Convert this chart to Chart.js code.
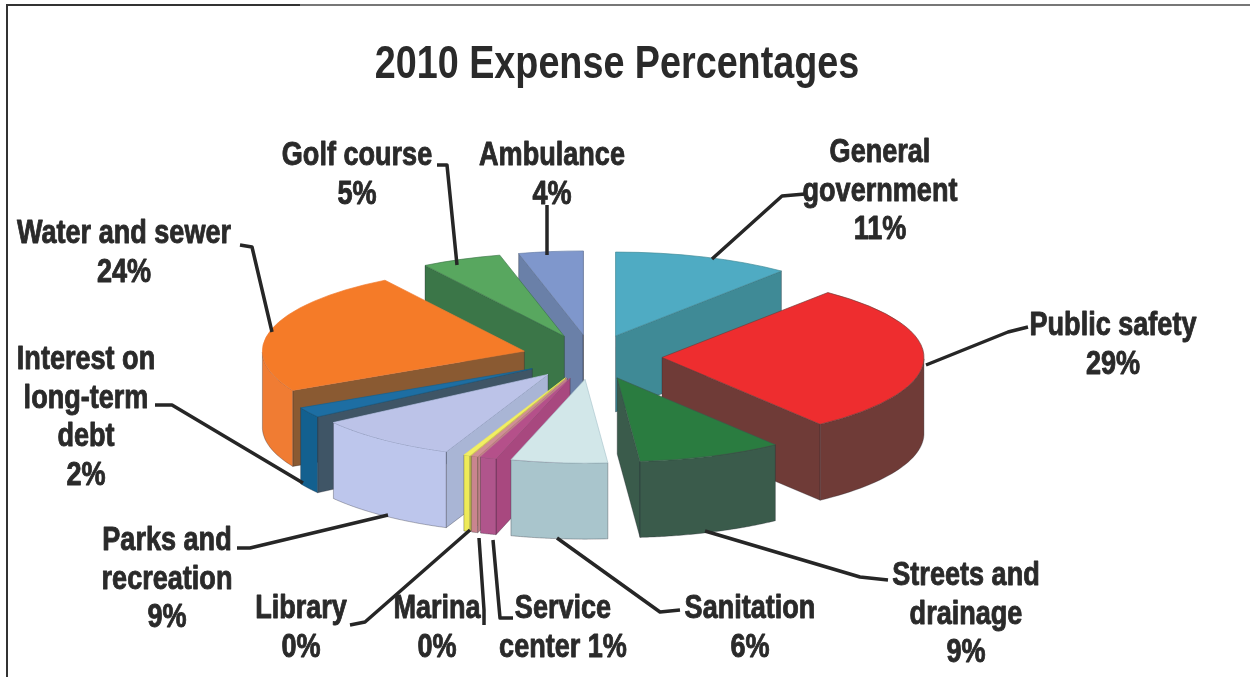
<!DOCTYPE html>
<html>
<head>
<meta charset="utf-8">
<title>2010 Expense Percentages</title>
<script src="https://cdn.jsdelivr.net/npm/chart.js@4/dist/chart.umd.js"></script>
<style>
  html, body { margin: 0; padding: 0; background: #fff; }
  canvas { display: block; }
</style>
</head>
<body>
<canvas id="expenseChart" width="1250" height="677"></canvas>
<script>
// clockwise from 12 o'clock
const categories = ['General government', 'Public safety', 'Streets and drainage', 'Sanitation',
  'Service center', 'Marina', 'Library', 'Parks and recreation', 'Interest on long-term debt',
  'Water and sewer', 'Golf course', 'Ambulance'];
const values = [11, 29, 9, 6, 1, 0.4, 0.4, 9, 2, 24, 5, 4];

const topColors = ['#4fabc3', '#ee2d2f', '#2a7c40', '#d2e7e9', '#b5508a', '#cf8f96', '#f2ef62',
  '#bcc3e8', '#1d6ea3', '#f57b28', '#58a75f', '#7f97cc'];
const wallColors = ['#3f8a96', '#6f3b37', '#3a5b4b', '#a9c5cc', '#b0558c', '#c9858f', '#eeea58',
  '#bdc6ec', '#13608f', '#f07c33', '#3b7648', '#6a80a8'];
const cutColors = ['#3f8a96', '#6f3b37', '#3a5b4b', '#a9c5cc', '#a8487f', '#c08088', '#d8d450',
  '#a9b5d5', '#3f5566', '#8a5a32', '#3b7648', '#6a80a8'];

const labelLines = [['General', 'government'], ['Public safety'], ['Streets and', 'drainage'],
  ['Sanitation'], ['Service', 'center'], ['Marina'], ['Library'], ['Parks and', 'recreation'],
  ['Interest on', 'long-term', 'debt'], ['Water and sewer'], ['Golf course'], ['Ambulance']];

// label anchor (centre of first line) and leader line for each slice
const labelAnchors = [[880, 153], [1113, 326], [966, 576], [750, 609], [563, 609], [437, 609],
  [301, 609], [167, 541], [86, 360], [124, 234], [357, 156], [552, 156]];
const leaders = [
  [[805, 194], [782, 196], [712, 259]],
  [[1028, 327], [1008, 332], [926, 365]],
  [[888, 580], [860, 577], [705, 531]],
  [[680, 610], [660, 612], [557, 538]],
  [[513, 618], [500, 618], [493, 540]],
  [[484, 625], [484, 610], [479, 538]],
  [[350, 625], [365, 622], [470, 530]],
  [[237, 548], [250, 548], [388, 515]],
  [[155, 405], [172, 405], [303, 483]],
  [[240, 245], [252, 247], [272, 332]],
  [[437, 165], [447, 165], [457, 265]],
  [[547, 205], [547, 255]]
];

const pieX = 592, pieY = 357;
const squash = 0.32, explode = 70, depth = 76;
const lineHeight = 38.5;
const textWidthScale = 0.82;
const titleCentre = 617;
const boldFamily = "'Liberation Sans', Arial, sans-serif";

function percentText(i) {
  return Math.round(values[i]) + '%';
}

// extruded wedges, painted back to front, top faces come from the arc element itself
const wedges = {
  id: 'wedges',
  beforeDatasetDraw(chart) {
    const ctx = chart.ctx;
    const arcs = chart.getDatasetMeta(0).data.map((arc, i) => {
      const p = arc.getProps(['x', 'y', 'startAngle', 'endAngle', 'outerRadius']);
      return { arc, i, ...p, mid: (p.startAngle + p.endAngle) / 2 };
    });
    arcs.sort((a, b) => Math.sin(a.mid) - Math.sin(b.mid));

    arcs.forEach(s => {
      const dx = Math.cos(s.mid) * explode;
      const dy = Math.sin(s.mid) * explode;
      const at = (angle, r) => [
        pieX + dx + Math.cos(angle) * r,
        pieY + (dy + Math.sin(angle) * r) * squash
      ];
      const face = (pts, color) => {
        ctx.beginPath();
        pts.forEach((p, n) => n ? ctx.lineTo(p[0], p[1]) : ctx.moveTo(p[0], p[1]));
        ctx.closePath();
        ctx.fillStyle = color;
        ctx.fill();
        ctx.strokeStyle = 'rgba(35,35,45,0.4)';
        ctx.lineWidth = 0.8;
        ctx.stroke();
      };

      // flat cut faces, only the ones turned towards the viewer
      const apex = at(0, 0);
      [[s.startAngle, -Math.PI / 2], [s.endAngle, Math.PI / 2]].forEach(([angle, turn]) => {
        if (Math.sin(angle + turn) <= 0) return;
        const c = at(angle, s.outerRadius);
        face([apex, c, [c[0], c[1] + depth], [apex[0], apex[1] + depth]], cutColors[s.i]);
      });

      // rounded outer wall, front half only
      const rim = [];
      for (let n = 0; n <= 60; n++) {
        const angle = s.startAngle + (s.endAngle - s.startAngle) * n / 60;
        if (Math.sin(angle) >= 0) rim.push(at(angle, s.outerRadius));
      }
      if (rim.length > 1) {
        face(rim.concat(rim.slice().reverse().map(p => [p[0], p[1] + depth])), wallColors[s.i]);
      }

      ctx.save();
      ctx.translate(pieX + dx, pieY + dy * squash);
      ctx.scale(1, squash);
      ctx.translate(-s.x, -s.y);
      s.arc.draw(ctx);
      ctx.restore();
    });
    return false;
  },
  // the heading uses the same tall, tight lettering as the labels
  afterLayout(chart) {
    const block = chart.titleBlock;
    if (!block || block.narrowed) return;
    const draw = block.draw;
    block.narrowed = true;
    block.draw = function () {
      const ctx = chart.ctx;
      ctx.save();
      ctx.translate(titleCentre, 0);
      ctx.scale(textWidthScale, 1);
      ctx.translate(-titleCentre, 0);
      draw.call(block);
      ctx.restore();
    };
  }
};

const annotations = {
  id: 'annotations',
  afterDraw(chart) {
    const ctx = chart.ctx;
    ctx.save();

    // page frame
    ctx.lineWidth = 2;
    ctx.strokeStyle = '#333';
    ctx.beginPath();
    ctx.moveTo(7, 677);
    ctx.lineTo(7, 5);
    ctx.lineTo(300, 5);
    ctx.stroke();
    ctx.strokeStyle = '#777';
    ctx.beginPath();
    ctx.moveTo(300, 5);
    ctx.lineTo(1250, 5);
    ctx.stroke();

    ctx.strokeStyle = '#262626';
    ctx.lineWidth = 3.5;
    ctx.lineJoin = 'round';
    leaders.forEach(line => {
      ctx.beginPath();
      line.forEach((p, n) => n ? ctx.lineTo(p[0], p[1]) : ctx.moveTo(p[0], p[1]));
      ctx.stroke();
    });

    ctx.fillStyle = '#2a2a2a';
    ctx.strokeStyle = '#2a2a2a';
    ctx.lineWidth = 0.9;
    ctx.font = 'bold 33px ' + boldFamily;
    ctx.textAlign = 'center';
    ctx.textBaseline = 'middle';
    categories.forEach((name, i) => {
      const lines = labelLines[i].slice();
      if (name === 'Service center') {
        lines[lines.length - 1] += ' ' + percentText(i);
      } else {
        lines.push(percentText(i));
      }
      lines.forEach((text, n) => {
        ctx.save();
        ctx.translate(labelAnchors[i][0], labelAnchors[i][1] + n * lineHeight);
        ctx.scale(textWidthScale, 1);
        ctx.fillText(text, 0, 0);
        ctx.strokeText(text, 0, 0);
        ctx.restore();
      });
    });
    ctx.restore();
  }
};

new Chart(document.getElementById('expenseChart'), {
  type: 'pie',
  data: {
    labels: categories,
    datasets: [{
      data: values,
      backgroundColor: topColors,
      borderColor: wallColors,
      borderWidth: 1
    }]
  },
  options: {
    responsive: false,
    animation: false,
    radius: 262,
    layout: { padding: { right: 16 } },
    plugins: {
      legend: { display: false },
      tooltip: { enabled: false },
      title: {
        display: true,
        text: '2010 Expense Percentages',
        fullSize: false,
        color: '#2a2a2a',
        font: { family: boldFamily, size: 46, weight: 'bold' },
        padding: { top: 38, bottom: 10 }
      }
    }
  },
  plugins: [wedges, annotations]
});
</script>
</body>
</html>
